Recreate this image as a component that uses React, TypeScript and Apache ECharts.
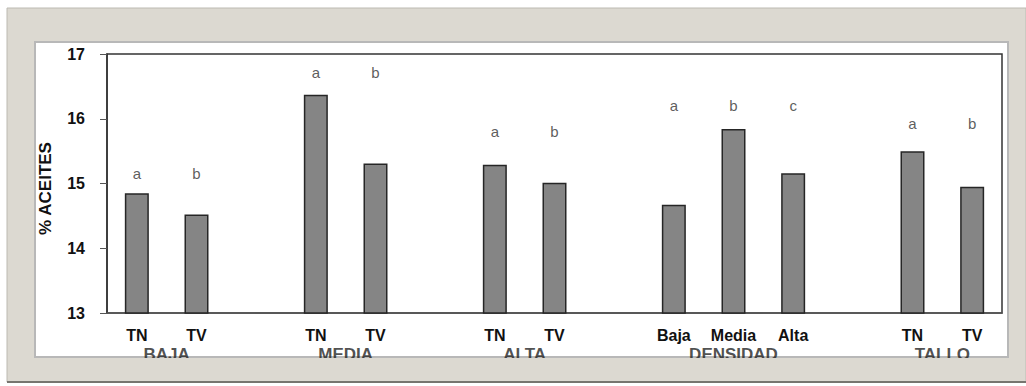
import React, { useEffect, useRef } from "react";
import * as echarts from "echarts";

const categories = ["TN", "TV", "", "TN", "TV", "", "TN", "TV", "", "Baja", "Media", "Alta", "", "TN", "TV"];
const values: (number | string)[] = [14.85, 14.52, "-", 16.37, 15.31, "-", 15.29, 15.01, "-", 14.67, 15.84, 15.16, "-", 15.5, 14.95];
const letters = ["a", "b", "", "a", "b", "", "a", "b", "", "a", "b", "c", "", "a", "b"];
const letterHeights: (number | string)[] = [15.15, 15.15, "-", 16.72, 16.72, "-", 15.81, 15.81, "-", 16.2, 16.2, 16.2, "-", 15.93, 15.93];
const groupNames = ["BAJA", "MEDIA", "ALTA", "DENSIDAD", "TALLO"];
const groupCenters = [0.5, 3.5, 6.5, 10, 13.5];
const yTicks = [13, 14, 15, 16, 17];

const FONT = "Liberation Sans, Arial, sans-serif";

export default function App() {
  const ref = useRef<HTMLDivElement>(null);
  useEffect(() => {
    if (!ref.current) return;
    const chart = echarts.init(ref.current, undefined, { renderer: "svg" });
    chart.setOption({
      animation: false,
      backgroundColor: "#ffffff",
      graphic: [
        { type: "rect", z: -10, shape: { x: 7, y: 8, width: 1019, height: 374 }, style: { fill: "#dcd9d1", stroke: "#bcbab2", lineWidth: 1 } },
        { type: "rect", z: -9, shape: { x: 35, y: 42, width: 973, height: 315 }, style: { fill: "#ffffff", stroke: "#b8b8b8", lineWidth: 2 } },
        { type: "rect", z: 100, shape: { x: 8, y: 358, width: 1017, height: 23 }, style: { fill: "#dcd9d1" } },
        { type: "line", z: 101, shape: { x1: 7, y1: 382, x2: 1026, y2: 382 }, style: { stroke: "#77756f", lineWidth: 2 } },
      ],
      grid: {
        left: 107,
        right: 24,
        top: 54,
        bottom: 73,
        show: true,
        borderColor: "#333",
        borderWidth: 1.5,
        backgroundColor: "transparent",
      },
      xAxis: [
        {
          type: "category",
          data: categories.map((_, i) => String(i)),
          axisLine: { lineStyle: { color: "#555", width: 1.5 } },
          axisTick: { show: false },
          axisLabel: {
            interval: 0,
            margin: 14,
            fontFamily: FONT,
            fontWeight: "bold",
            fontSize: 16,
            color: "#111",
            formatter: (_v: string, idx: number) => categories[idx],
          },
        },
        { type: "value", min: -0.5, max: 14.5, show: false },
      ],
      yAxis: {
        type: "value",
        min: 13,
        max: 17,
        interval: 1,
        name: "% ACEITES",
        nameLocation: "middle",
        nameRotate: 90,
        nameGap: 53,
        nameTextStyle: { fontFamily: FONT, fontWeight: "bold", fontSize: 17, color: "#111", padding: [0, 10, 0, 0] },
        axisLine: { show: true, onZero: false, lineStyle: { color: "#333", width: 1.5 } },
        axisTick: { show: true, inside: false, length: 7, lineStyle: { color: "#555" } },
        splitLine: { show: false },
        axisLabel: {
          margin: 22,
          fontFamily: FONT,
          fontWeight: "bold",
          fontSize: 16,
          color: "#111",
          formatter: (v: number) => (yTicks.includes(v) ? String(v) : ""),
        },
      },
      series: [
        {
          type: "bar",
          data: values,
          barWidth: 24,
          itemStyle: { color: "#858585", borderColor: "#262626", borderWidth: 1.5 },
        },
        {
          type: "scatter",
          data: letterHeights,
          symbolSize: 1,
          itemStyle: { color: "transparent" },
          label: {
            show: true,
            position: "inside",
            fontFamily: FONT,
            fontSize: 15,
            color: "#333",
            formatter: (p: any) => letters[p.dataIndex],
          },
          silent: true,
        },
        {
          type: "scatter",
          xAxisIndex: 1,
          data: groupCenters.map((c) => [c, 13]),
          symbolSize: 1,
          itemStyle: { color: "transparent" },
          clip: false,
          label: {
            show: true,
            position: "inside",
            offset: [0, 41],
            fontFamily: FONT,
            fontWeight: "bold",
            fontSize: 17,
            color: "#222",
            formatter: (p: any) => groupNames[p.dataIndex],
          },
          silent: true,
        },
      ],
    });
    return () => chart.dispose();
  }, []);
  return <div ref={ref} style={{ position: "absolute", left: 0, top: 0, width: 1026, height: 386 }} />;
}
